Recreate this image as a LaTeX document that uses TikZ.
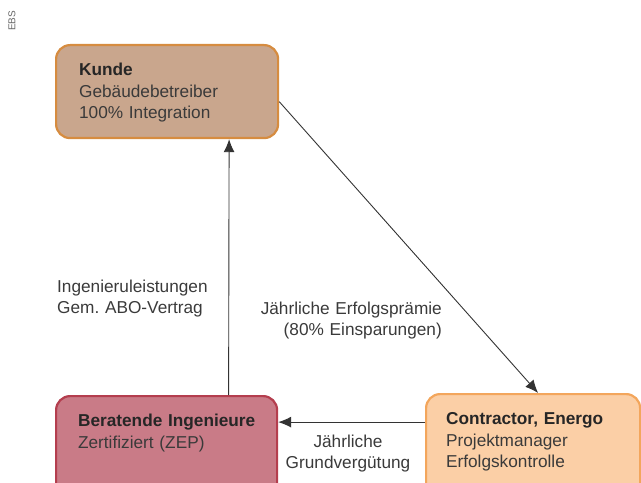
\documentclass[tikz,border=0pt]{standalone}
\usepackage{fontspec}
\setmainfont{Liberation Sans}
\usepackage{tikz}
\usetikzlibrary{arrows.meta}
\definecolor{kundefill}{RGB}{201,166,141}
\definecolor{kundeline}{RGB}{214,140,64}
\definecolor{ingfill}{RGB}{201,123,135}
\definecolor{ingline}{RGB}{180,62,78}
\definecolor{confill}{RGB}{251,207,166}
\definecolor{conline}{RGB}{243,166,92}
\definecolor{schrift}{RGB}{58,58,58}
\newcommand{\titel}[1]{\mbox{\bfseries\color{black!85} #1}}
\tikzset{
	kasten/.style={draw, line width=2.2bp, rounded corners=14bp, anchor=north west,
		align=left, inner ysep=17bp, text height=13bp, text=schrift},
	beschrift/.style={inner sep=0pt, text=schrift},
	pfeil/.style={draw=black!80, line width=0.9bp}
}

\begin{document}
\frenchspacing
\begin{tikzpicture}[x=1bp, y=-1bp, >={Latex[length=13bp,width=11bp]},
	font=\fontsize{17.3}{22}\selectfont]
	\useasboundingbox (0,0) rectangle (641,483);
	\clip (0,0) rectangle (641,483);
	\node [rotate=90, text=black!60, font=\fontsize{10}{10}\selectfont] (ebs) at (12,21) {EBS};
% KNOTEN
	\node [kasten, fill=kundefill, draw=kundeline, inner xsep=23bp, text width=176bp, text depth=46bp]
		(kunde) at (55,44) {\titel{Kunde}\\Gebäudebetreiber\\100\% Integration};
	\node [kasten, fill=ingfill, draw=ingline, inner xsep=22bp, text width=177bp, text depth=80bp]
		(ing) at (55,395) {\titel{Beratende Ingenieure}\\Zertifiziert (ZEP)};
	\node [kasten, fill=confill, draw=conline, inner xsep=20bp, text width=174bp, text depth=80bp]
		(con) at (425,393) {\titel{Contractor, Energo}\\Projektmanager\\Erfolgskontrolle};
% PFEILE
	\draw [pfeil, ->] ([xshift=62bp]ing.north) -- ([xshift=62bp]kunde.south);
	\draw [pfeil, ->] ([yshift=-10bp]kunde.east) -- ([xshift=5bp]con.north);
	\draw [pfeil, ->] ([yshift=2bp]con.west |- con.text) -- ([yshift=2bp]ing.east |- con.text);
% BESCHRIFTUNG
	\node [beschrift, anchor=base west, align=left, text width=170bp] (leist) at (57,292)
		{Ingenieruleistungen\\Gem. ABO-Vertrag};
	\node [beschrift, anchor=base east, align=right, text width=200bp] (praemie) at (442,314)
		{Jährliche Erfolgsprämie\\(80\% Einsparungen)};
	\node [beschrift, anchor=base, align=center, text width=140bp] (grund) at (348,447)
		{Jährliche\\Grundvergütung};
\end{tikzpicture}
\end{document}
